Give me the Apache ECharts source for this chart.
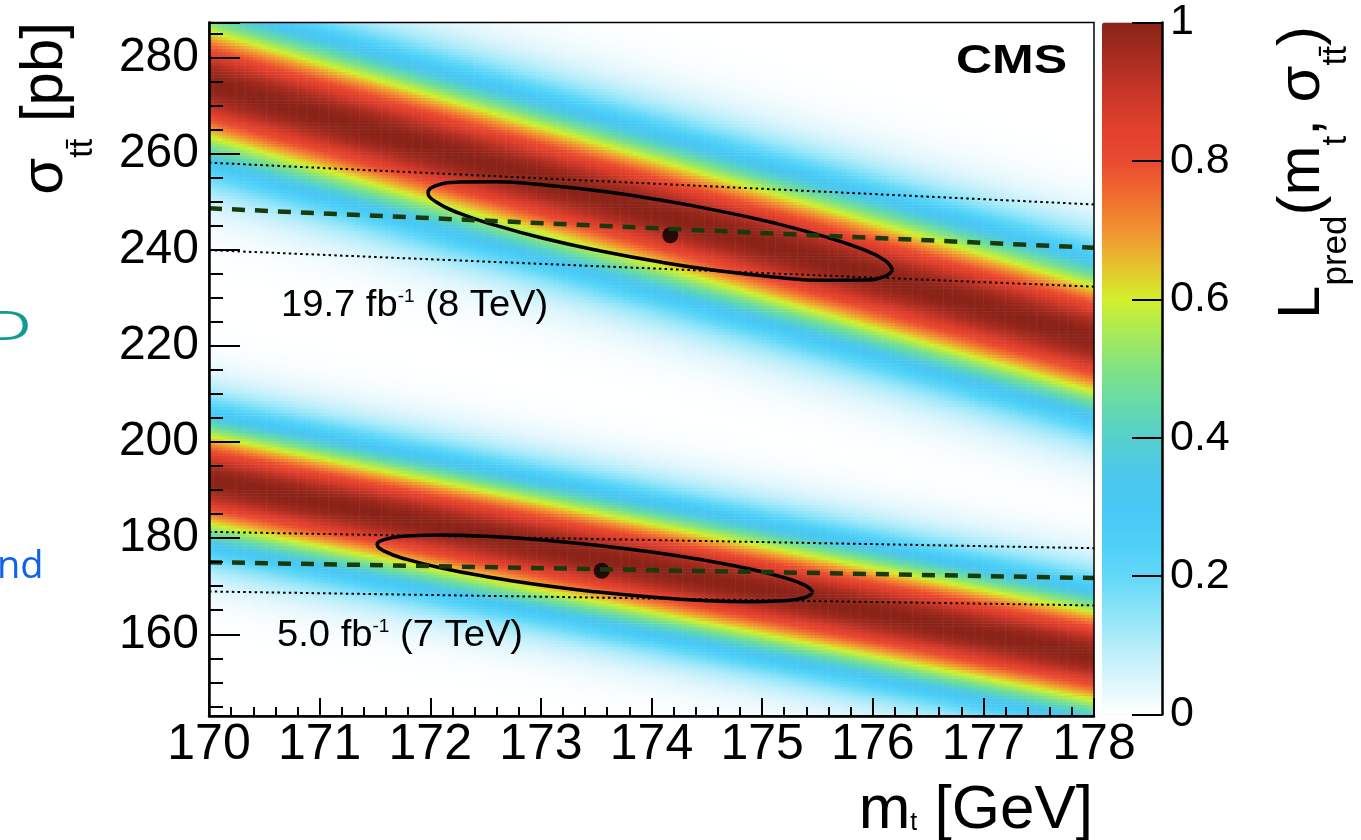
<!DOCTYPE html>
<html>
<head>
<meta charset="utf-8">
<title>L_pred(mt, sigma_tt)</title>
<script src="https://cdn.jsdelivr.net/npm/echarts@6/dist/echarts.min.js"></script>
<style>
  html, body { margin: 0; padding: 0; background: #fff; }
  #chart { width: 1361px; height: 840px; }
</style>
</head>
<body>
<div id="chart"></div>
<script>
  // axis ranges
  const massRange = [170, 178]
  const xsecRange = [143, 287.25]
  const colorbarTicks = [0, 0.2, 0.4, 0.6, 0.8, 1]

  // predicted band: centre line (L_pred = 1) read at mt = 170 and mt = 178, gaussian width in pb
  const bandCentreLeft = [274.5, 192.1]
  const bandCentreRight = [221.5, 155.5]
  const bandWidth = [10.8, 9.0]

  // measured sigma(mt) (dashed) and +-1 sd (dotted), at mt = 170 and 178
  const measMass = [170, 178]
  const meas8 = [248.6, 240.4]
  const meas8Up = [258.1, 249.4]
  const meas8Down = [239.9, 232.3]
  const meas7 = [175.0, 171.7]
  const meas7Up = [181.3, 177.9]
  const meas7Down = [168.9, 166.0]

  // best fit points
  const bestMass = [174.17, 173.55]
  const bestXsec = [243.0, 173.2]

  // 1 sd contours
  const contour8Mass = [176.18, 176.11, 175.90, 175.56, 175.13, 174.62, 174.08, 173.54, 173.03, 172.60, 172.26, 172.05,
    171.98, 172.05, 172.26, 172.60, 173.03, 173.54, 174.08, 174.62, 175.13, 175.56, 175.90, 176.11]
  const contour8Xsec = [235.84, 237.78, 240.14, 242.75, 245.43, 248.02, 250.32, 252.18, 253.47, 254.11, 254.05, 253.30,
    251.90, 249.96, 247.60, 244.99, 242.31, 239.72, 237.42, 235.56, 234.27, 233.63, 233.69, 234.44]
  const contour7Mass = [175.46, 175.39, 175.19, 174.88, 174.47, 174.00, 173.49, 172.98, 172.51, 172.10, 171.79, 171.59,
    171.52, 171.59, 171.79, 172.10, 172.51, 172.98, 173.49, 174.00, 174.47, 174.88, 175.19, 175.39]
  const contour7Xsec = [168.74, 170.17, 171.83, 173.62, 175.42, 177.10, 178.55, 179.67, 180.38, 180.63, 180.42, 179.74,
    178.66, 177.23, 175.57, 173.78, 171.98, 170.30, 168.85, 167.73, 167.02, 166.77, 166.98, 167.66]

  // palette of the z axis, 0 -> 1
  const palette = ['#ffffff', '#dcf5fc', '#b5edfa', '#8be3f9', '#62d8f8', '#4dcff7', '#48c8f4', '#4cc8ea', '#56d0cc',
    '#66daa8', '#82e283', '#a8ea58', '#d2f02c', '#e6c02e', '#f29232', '#f06c30', '#e94a30', '#e0402c', '#c83628',
    '#a82c20', '#8a2318']

  const font = 'Liberation Sans, Arial, Helvetica, sans-serif'

  // likelihood map on a fine grid of cells
  const nCol = 200
  const nRow = 240
  const dm = (massRange[1] - massRange[0]) / nCol
  const ds = (xsecRange[1] - xsecRange[0]) / nRow
  const colCats = []
  const rowCats = []
  for (let i = 0; i < nCol; i++) colCats.push(String(i))
  for (let j = 0; j < nRow; j++) rowCats.push(String(j))
  const cells = []
  for (let i = 0; i < nCol; i++) {
    const m = massRange[0] + (i + 0.5) * dm
    const f = (m - massRange[0]) / (massRange[1] - massRange[0])
    for (let j = 0; j < nRow; j++) {
      const s = xsecRange[0] + (j + 0.5) * ds
      let L = 0
      for (let k = 0; k < bandWidth.length; k++) {
        const c = bandCentreLeft[k] + (bandCentreRight[k] - bandCentreLeft[k]) * f
        const d = (s - c) / bandWidth[k]
        L = Math.max(L, Math.exp(-0.5 * d * d))
      }
      cells.push([i, j, L])
    }
  }

  function pairs (xs, ys) {
    return xs.map((x, i) => [x, ys[i]])
  }
  function closed (xs, ys) {
    const p = pairs(xs, ys)
    p.push(p[0])
    return p
  }

  const dotted = {type: [2.5, 3.2], width: 2, color: '#000'}
  const dashed = {type: [13, 10], width: 4.5, color: '#1b3a0b'}

  function line (data, style, z) {
    return {
      type: 'line', xAxisIndex: 1, yAxisIndex: 1, data: data, showSymbol: false, symbol: 'none',
      lineStyle: style, silent: true, z: z
    }
  }

  const gridBox = {left: 209, top: 22.5, width: 885, height: 693.5}

  const chart = echarts.init(document.getElementById('chart'), null, {renderer: 'canvas'})
  chart.setOption({
    animation: false,
    backgroundColor: '#fff',
    grid: [
      Object.assign({show: false}, gridBox),
      Object.assign({show: true, borderColor: '#000', borderWidth: 1.5, backgroundColor: 'transparent', z: 10}, gridBox),
      {left: 1102, top: 22.5, width: 60, height: 692, show: false}
    ],
    xAxis: [
      {type: 'category', gridIndex: 0, data: colCats, show: false},
      {
        type: 'value', gridIndex: 1, min: massRange[0], max: massRange[1], interval: 1, z: 10,
        axisLine: {lineStyle: {color: '#000', width: 2.5}},
        axisTick: {inside: true, length: 18, lineStyle: {color: '#000', width: 2}},
        minorTick: {show: true, splitNumber: 5, length: 9, lineStyle: {color: '#000', width: 2}},
        axisLabel: {margin: 4, fontSize: 50, color: '#000', fontFamily: font},
        splitLine: {show: false}
      },
      {type: 'value', gridIndex: 2, show: false, min: 0, max: 1}
    ],
    yAxis: [
      {type: 'category', gridIndex: 0, data: rowCats, show: false},
      {
        type: 'value', gridIndex: 1, min: xsecRange[0], max: xsecRange[1], minInterval: 20, maxInterval: 20,
        splitNumber: 7, z: 10,
        axisLine: {lineStyle: {color: '#000', width: 2.5}},
        axisTick: {inside: true, length: 31, lineStyle: {color: '#000', width: 2}},
        minorTick: {show: true, splitNumber: 4, length: 14, lineStyle: {color: '#000', width: 2}},
        axisLabel: {
          margin: 10, fontSize: 48, color: '#000', fontFamily: font, showMinLabel: false, showMaxLabel: false,
          formatter: v => (v % 20 === 0 ? String(v) : '')
        },
        splitLine: {show: false}
      },
      {
        type: 'value', gridIndex: 2, min: colorbarTicks[0], max: colorbarTicks[colorbarTicks.length - 1],
        interval: colorbarTicks[1] - colorbarTicks[0], position: 'right', z: 10,
        axisLine: {show: true, onZero: false, lineStyle: {color: '#000', width: 2.5}},
        axisTick: {show: true, inside: true, length: 30, lineStyle: {color: '#000', width: 2}},
        axisLabel: {margin: 8, fontSize: 43, color: '#000', fontFamily: font, formatter: v => String(+v.toFixed(1))},
        splitLine: {show: false}
      }
    ],
    visualMap: {
      type: 'continuous', seriesIndex: 0, min: 0, max: 1, show: true, calculable: false, hoverLink: false,
      left: 1102, top: 22.5, itemWidth: 60, itemHeight: 692, padding: 0, text: null, z: 2,
      inRange: {color: palette}
    },
    graphic: [
      {
        type: 'text', x: 45, y: 22, rotation: Math.PI / 2, silent: true,
        style: {
          text: '{a|σ}{s|tt\u0304}{a| [pb]}', align: 'right', verticalAlign: 'middle', fill: '#000',
          rich: {
            a: {fontSize: 60, fontFamily: font, lineHeight: 110, verticalAlign: 'middle', fill: '#000'},
            s: {fontSize: 34, fontFamily: font, lineHeight: 34, verticalAlign: 'bottom', fill: '#000'}
          }
        }
      },
      {
        type: 'text', x: 1302, y: 26, rotation: Math.PI / 2, silent: true,
        style: {
          text: '{a|L}{s|pred}{a|(m}{s|t}{a|, σ}{s|tt\u0304}{a|)}', align: 'right', verticalAlign: 'middle', fill: '#000',
          rich: {
            a: {fontSize: 60, fontFamily: font, lineHeight: 104, verticalAlign: 'middle', fill: '#000'},
            s: {fontSize: 35, fontFamily: font, lineHeight: 35, verticalAlign: 'bottom', fill: '#000'}
          }
        }
      },
      {
        type: 'text', x: 1093, y: 811, silent: true,
        style: {
          text: '{a|m}{s|t}{a| [GeV]}', align: 'right', verticalAlign: 'middle', fill: '#000',
          rich: {
            a: {fontSize: 62, fontFamily: font, lineHeight: 50, verticalAlign: 'middle', fill: '#000'},
            s: {fontSize: 25, fontFamily: font, lineHeight: 25, verticalAlign: 'bottom', fill: '#000'}
          }
        }
      },
      {
        type: 'text', x: 1067, y: 62, scaleX: 1.25, silent: true, z: 20,
        style: {text: 'CMS', font: 'bold 40px ' + font, align: 'right', verticalAlign: 'middle', fill: '#000'}
      },
      {
        type: 'text', x: 281, y: 306, scaleX: 1.06, silent: true, z: 20,
        style: {
          text: '{a|19.7 fb}{p|-1}{a| (8 TeV)}', align: 'left', verticalAlign: 'middle', fill: '#000',
          rich: {
            a: {fontSize: 36, fontFamily: font, lineHeight: 36, verticalAlign: 'middle', fill: '#000'},
            p: {fontSize: 18, fontFamily: font, lineHeight: 18, verticalAlign: 'top', fill: '#000'}
          }
        }
      },
      {
        type: 'text', x: 277, y: 636, scaleX: 1.06, silent: true, z: 20,
        style: {
          text: '{a|5.0 fb}{p|-1}{a| (7 TeV)}', align: 'left', verticalAlign: 'middle', fill: '#000',
          rich: {
            a: {fontSize: 36, fontFamily: font, lineHeight: 36, verticalAlign: 'middle', fill: '#000'},
            p: {fontSize: 18, fontFamily: font, lineHeight: 18, verticalAlign: 'top', fill: '#000'}
          }
        }
      },
      // bits of slide text cut off at the left edge
      {
        type: 'text', x: -12, y: 329, scaleX: 1.5, silent: true,
        style: {text: 'D', font: '40px Open Sans, sans-serif', align: 'left', verticalAlign: 'middle', fill: '#129a96'}
      },
      {
        type: 'text', x: -3, y: 567, silent: true,
        style: {text: 'nd', font: '38px Open Sans, sans-serif', align: 'left', verticalAlign: 'middle', fill: '#1262e6'}
      }
    ],
    series: [
      {
        type: 'heatmap', xAxisIndex: 0, yAxisIndex: 0, data: cells, progressive: 0, silent: true, z: 1,
        itemStyle: {borderWidth: 0}
      },
      line(pairs(measMass, meas8Up), dotted, 3),
      line(pairs(measMass, meas8Down), dotted, 3),
      line(pairs(measMass, meas7Up), dotted, 3),
      line(pairs(measMass, meas7Down), dotted, 3),
      Object.assign(line(closed(contour8Mass, contour8Xsec), {color: '#000', width: 3.5}, 4), {smooth: true}),
      Object.assign(line(closed(contour7Mass, contour7Xsec), {color: '#000', width: 3.5}, 4), {smooth: true}),
      {
        type: 'scatter', xAxisIndex: 1, yAxisIndex: 1, data: pairs(bestMass, bestXsec), symbolSize: 16,
        itemStyle: {color: '#000'}, silent: true, z: 5
      },
      line(pairs(measMass, meas8), dashed, 6),
      line(pairs(measMass, meas7), dashed, 6)
    ]
  })
</script>
</body>
</html>
